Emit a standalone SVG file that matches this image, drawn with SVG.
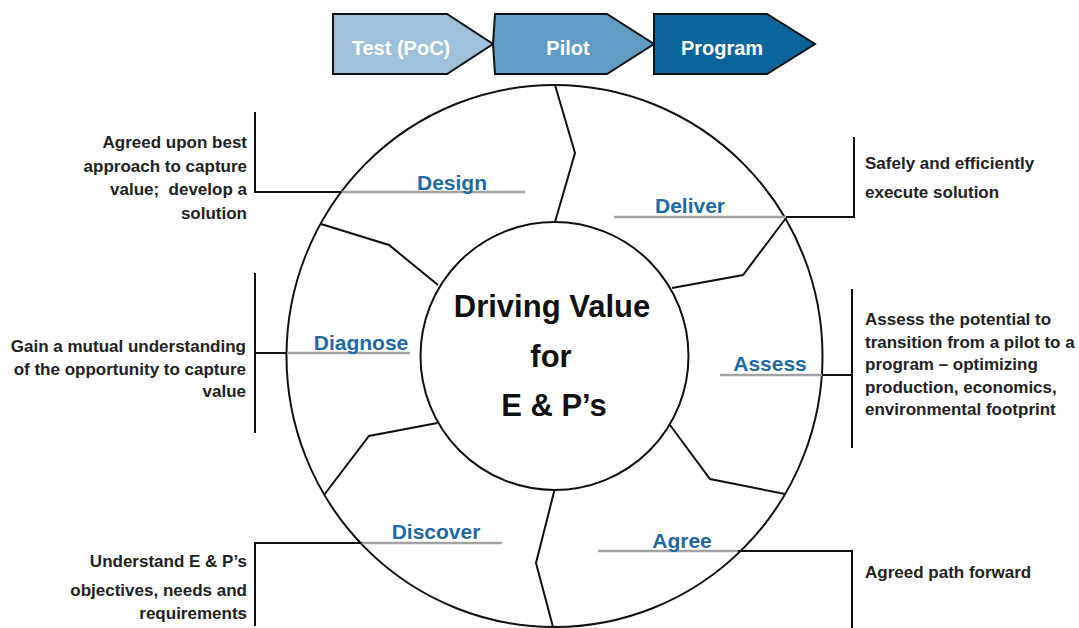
<svg xmlns="http://www.w3.org/2000/svg" width="1079" height="628" viewBox="0 0 1079 628">
  <style>
    .chev { stroke: #111; stroke-width: 2; stroke-linejoin: miter; }
    .chev-text { font-family: "Liberation Sans", Arial, sans-serif; font-weight: bold; font-size: 20px; fill: #ffffff; text-anchor: middle; }
    .ring { fill: none; stroke: #111; stroke-width: 2; }
    .divider { fill: none; stroke: #111; stroke-width: 2; stroke-linejoin: miter; }
    .leader { fill: none; stroke: #111; stroke-width: 2; }
    .rule { fill: none; stroke: #a3a3a3; stroke-width: 2.5; }
    .label { font-family: "Liberation Sans", Arial, sans-serif; font-weight: bold; font-size: 21px; fill: #1f6aa5; text-anchor: middle; }
    .desc { font-family: "Liberation Sans", Arial, sans-serif; font-weight: bold; font-size: 17px; fill: #222; }
    .desc-l { text-anchor: end; }
    .hub-text { font-family: "Liberation Sans", Arial, sans-serif; font-weight: bold; font-size: 31px; fill: #111; text-anchor: middle; }
  </style>

  <rect width="1079" height="628" fill="#ffffff"/>

  <!-- stage chevrons -->
  <g id="stage-test">
    <polygon class="chev" fill="#9fc1d9" points="333,14 447,14 493,44 447,74 333,74"/>
    <text class="chev-text" x="401" y="55">Test (PoC)</text>
  </g>
  <g id="stage-pilot">
    <polygon class="chev" fill="#5f9dc4" points="495,14 607,14 654,44 607,74 495,74 493,44"/>
    <text class="chev-text" x="568" y="55">Pilot</text>
  </g>
  <g id="stage-program">
    <polygon class="chev" fill="#0b659b" points="654,14 767,14 815,44 767,74 654,74"/>
    <text class="chev-text" x="722" y="55">Program</text>
  </g>

  <!-- outer ring and segment dividers -->
  <g id="wheel">
    <ellipse class="ring" cx="554.5" cy="356" rx="268" ry="271"/>
    <polyline class="divider" points="555,85 575,153 555,222"/>
    <polyline class="divider" points="786,218 743,275 672,288"/>
    <polyline class="divider" points="670,425 710,479 785,494"/>
    <polyline class="divider" points="554.5,490 536,563 553,627"/>
    <polyline class="divider" points="437.5,423 369,436 324,495"/>
    <polyline class="divider" points="321,224 389,245 438,285"/>
  </g>

  <!-- hub -->
  <g id="hub">
    <circle cx="554.5" cy="356" r="134" fill="#ffffff" stroke="#111" stroke-width="2"/>
    <text class="hub-text" x="552" y="317">Driving Value</text>
    <text class="hub-text" x="551" y="367">for</text>
    <text class="hub-text" x="554" y="416">E &amp; P’s</text>
  </g>

  <!-- leader lines from each segment to its description -->
  <g id="connectors">
    <line class="rule" x1="341.5" y1="192" x2="525" y2="192"/>
    <polyline class="leader" points="255,112 255,192 341.5,192"/>

    <line class="rule" x1="614" y1="217" x2="786" y2="217"/>
    <polyline class="leader" points="786,217 854,217 854,137"/>

    <line class="rule" x1="287" y1="353" x2="410" y2="353"/>
    <line class="leader" x1="255" y1="273" x2="255" y2="433"/>
    <line class="leader" x1="255" y1="353" x2="287" y2="353"/>

    <line class="rule" x1="720" y1="375" x2="822" y2="375"/>
    <line class="leader" x1="822" y1="375" x2="852" y2="375"/>
    <line class="leader" x1="852" y1="289" x2="852" y2="448"/>

    <line class="rule" x1="598" y1="551" x2="738" y2="551"/>
    <polyline class="leader" points="738,551 852,551 852,628"/>

    <line class="rule" x1="362" y1="543" x2="502" y2="543"/>
    <polyline class="leader" points="362,543 255,543 255,626"/>
  </g>

  <!-- segments -->
  <g id="seg-design">
    <text class="label" x="452" y="190">Design</text>
    <text class="desc desc-l" x="247" y="148">Agreed upon best</text>
    <text class="desc desc-l" x="247" y="171.5">approach to capture</text>
    <text class="desc desc-l" x="247" y="195" xml:space="preserve">value;  develop a</text>
    <text class="desc desc-l" x="247" y="218.5">solution</text>
  </g>
  <g id="seg-deliver">
    <text class="label" x="690" y="213">Deliver</text>
    <text class="desc" x="865" y="169">Safely and efficiently</text>
    <text class="desc" x="865" y="198">execute solution</text>
  </g>
  <g id="seg-diagnose">
    <text class="label" x="361" y="350">Diagnose</text>
    <text class="desc desc-l" x="246" y="352">Gain a mutual understanding</text>
    <text class="desc desc-l" x="246" y="374.5">of the opportunity to capture</text>
    <text class="desc desc-l" x="246" y="397">value</text>
  </g>
  <g id="seg-assess">
    <text class="label" x="770" y="371">Assess</text>
    <text class="desc" x="865" y="325">Assess the potential to</text>
    <text class="desc" x="865" y="347.5">transition from a pilot to a</text>
    <text class="desc" x="865" y="370">program – optimizing</text>
    <text class="desc" x="865" y="392.5">production, economics,</text>
    <text class="desc" x="865" y="415">environmental footprint</text>
  </g>
  <g id="seg-agree">
    <text class="label" x="682" y="548">Agree</text>
    <text class="desc" x="865" y="578">Agreed path forward</text>
  </g>
  <g id="seg-discover">
    <text class="label" x="436" y="539">Discover</text>
    <text class="desc desc-l" x="247" y="567">Understand E &amp; P’s</text>
    <text class="desc desc-l" x="247" y="596">objectives, needs and</text>
    <text class="desc desc-l" x="247" y="619">requirements</text>
  </g>
</svg>
